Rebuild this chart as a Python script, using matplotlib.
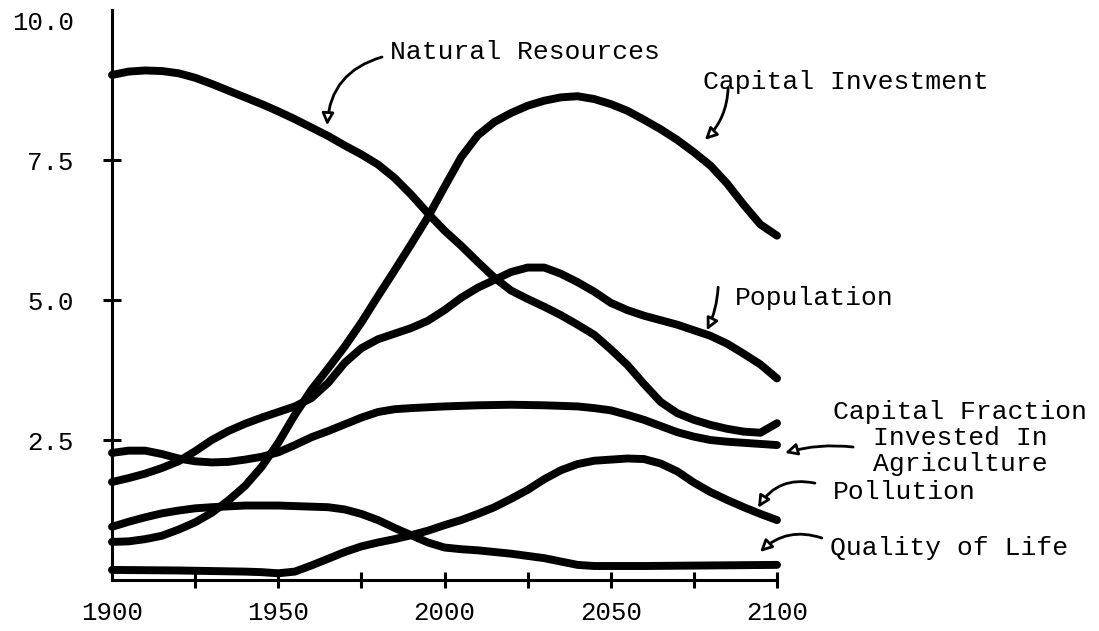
import numpy as np
import matplotlib
matplotlib.use("Agg")
import matplotlib.pyplot as plt

plt.rcParams['font.family'] = ['Liberation Mono', 'DejaVu Sans Mono']

# values, roughly every 5 years
nr_years = list(range(1900, 2101, 5))
nr_vals = [9.02, 9.08, 9.10, 9.09, 9.05, 8.97, 8.86, 8.74, 8.62, 8.50,
           8.37, 8.23, 8.08, 7.93, 7.76, 7.60, 7.42, 7.18, 6.88, 6.55,
           6.24, 5.97, 5.68, 5.40, 5.17, 5.02, 4.88, 4.73, 4.56, 4.38,
           4.12, 3.84, 3.50, 3.18, 2.98, 2.86, 2.77, 2.70, 2.65, 2.63, 2.80]

ci_years = list(range(1900, 2101, 5))
ci_vals = [0.68, 0.69, 0.73, 0.79, 0.90, 1.03, 1.20, 1.42, 1.68, 2.02,
           2.45, 2.95, 3.40, 3.78, 4.17, 4.60, 5.07, 5.53, 6.00, 6.48,
           7.02, 7.55, 7.94, 8.18, 8.34, 8.47, 8.56, 8.62, 8.64, 8.59,
           8.50, 8.38, 8.22, 8.05, 7.86, 7.64, 7.40, 7.08, 6.70, 6.35, 6.15]

pop_years = list(range(1900, 2101, 5))
pop_vals = [1.75, 1.82, 1.90, 2.00, 2.12, 2.30, 2.50, 2.66, 2.79, 2.90,
            3.00, 3.10, 3.25, 3.52, 3.88, 4.14, 4.30, 4.40, 4.50, 4.63,
            4.82, 5.04, 5.22, 5.36, 5.50, 5.58, 5.58, 5.47, 5.32, 5.15,
            4.95, 4.82, 4.72, 4.64, 4.56, 4.46, 4.36, 4.22, 4.04, 3.85, 3.60]

cf_years = [1900, 1905, 1910, 1915, 1920, 1925, 1930, 1935, 1940, 1945,
            1950, 1955, 1960, 1965, 1970, 1975, 1980, 1985, 1990, 2000,
            2010, 2020, 2030, 2040, 2045, 2050, 2055, 2060, 2065, 2070,
            2075, 2080, 2085, 2090, 2095, 2100]
cf_vals = [2.27, 2.31, 2.31, 2.25, 2.17, 2.12, 2.10, 2.11, 2.15, 2.20,
           2.28, 2.41, 2.55, 2.66, 2.78, 2.90, 3.00, 3.05, 3.07, 3.10,
           3.12, 3.13, 3.12, 3.10, 3.07, 3.03, 2.95, 2.86, 2.75, 2.64,
           2.56, 2.50, 2.47, 2.45, 2.43, 2.41]

pol_years = [1900, 1920, 1940, 1945, 1950, 1955, 1960, 1965, 1970, 1975,
             1980, 1985, 1990, 1995, 2000, 2005, 2010, 2015, 2020, 2025,
             2030, 2035, 2040, 2045, 2050, 2055, 2060, 2065, 2070, 2075,
             2080, 2085, 2090, 2095, 2100]
pol_vals = [0.18, 0.17, 0.15, 0.14, 0.12, 0.15, 0.26, 0.38, 0.50, 0.60,
            0.67, 0.73, 0.80, 0.88, 0.98, 1.07, 1.18, 1.30, 1.45, 1.61,
            1.80, 1.96, 2.07, 2.13, 2.15, 2.17, 2.16, 2.08, 1.94, 1.74,
            1.57, 1.43, 1.30, 1.18, 1.07]

qol_years = [1900, 1905, 1910, 1915, 1920, 1925, 1930, 1940, 1950, 1960,
             1965, 1970, 1975, 1980, 1985, 1990, 1995, 2000, 2005, 2010,
             2015, 2020, 2025, 2030, 2035, 2040, 2045, 2060, 2080, 2100]
qol_vals = [0.95, 1.04, 1.12, 1.19, 1.24, 1.28, 1.30, 1.33, 1.33, 1.31,
            1.30, 1.26, 1.18, 1.07, 0.93, 0.80, 0.67, 0.58, 0.55, 0.53,
            0.50, 0.47, 0.43, 0.39, 0.33, 0.27, 0.25, 0.25, 0.26, 0.27]

series = [
    (nr_years, nr_vals),
    (ci_years, ci_vals),
    (pop_years, pop_vals),
    (cf_years, cf_vals),
    (pol_years, pol_vals),
    (qol_years, qol_vals),
]

fig = plt.figure(figsize=(10.99, 6.31), dpi=100)
ax = fig.add_axes([112 / 1099, 51 / 631, 665 / 1099, 570 / 631])

for yrs, vals in series:
    ax.plot(yrs, vals, color='black', lw=5.7, solid_capstyle='round',
            solid_joinstyle='round', clip_on=False)

ax.set_xlim(1900, 2100)
ax.set_ylim(0, 10.18)
for s in ['top', 'right']:
    ax.spines[s].set_visible(False)
for s in ['left', 'bottom']:
    ax.spines[s].set_linewidth(2.2)

ax.set_xticks([1900, 1950, 2000, 2050, 2100])
ax.set_xticks([1925, 1975, 2025, 2075], minor=True)
ax.set_yticks([2.5, 5.0, 7.5, 10.0])
ax.set_yticklabels(['2.5', '5.0', '7.5', '10.0'])
ax.tick_params(axis='x', which='both', direction='inout', length=12, width=2.2,
               pad=9, labelsize=18.5)
ax.tick_params(axis='y', direction='inout', length=13, width=2.2, pad=21,
               labelsize=18.5)
ax.yaxis.get_major_ticks()[-1].tick1line.set_visible(False)
ax.xaxis.get_major_ticks()[0].tick1line.set_visible(False)

txt = dict(fontsize=19, va='center', clip_on=False)
arr = dict(arrowstyle='-|>,head_length=0.7,head_width=0.35', color='black',
           fc='white', lw=2, shrinkA=0, shrinkB=0)

ax.text(1983.6, 9.43, 'Natural Resources', ha='left', **txt)
ax.annotate('', xy=(1964.7, 8.12), xytext=(1981.2, 9.34),
            arrowprops=dict(connectionstyle='arc3,rad=0.35', **arr),
            annotation_clip=False)

ax.text(2077.7, 8.89, 'Capital Investment', ha='left', **txt)
ax.annotate('', xy=(2078.3, 7.86), xytext=(2085.3, 8.79),
            arrowprops=dict(connectionstyle='arc3,rad=-0.2', **arr),
            annotation_clip=False)

ax.text(2087.4, 5.04, 'Population', ha='left', **txt)
ax.annotate('', xy=(2078.9, 4.46), xytext=(2082.3, 5.23),
            arrowprops=dict(connectionstyle='arc3,rad=-0.1', **arr),
            annotation_clip=False)

ax.text(2155, 2.54, 'Capital Fraction\nInvested In\nAgriculture', ha='center',
        multialignment='center', linespacing=1.1, **txt)
ax.annotate('', xy=(2102.4, 2.27), xytext=(2122.9, 2.375),
            arrowprops=dict(connectionstyle='arc3,rad=0.1', **arr),
            annotation_clip=False)

ax.text(2116.8, 1.57, 'Pollution', ha='left', **txt)
ax.annotate('', xy=(2094.3, 1.29), xytext=(2111.4, 1.73),
            arrowprops=dict(connectionstyle='arc3,rad=0.35', **arr),
            annotation_clip=False)

ax.text(2115.9, 0.57, 'Quality of Life', ha='left', **txt)
ax.annotate('', xy=(2094.9, 0.50), xytext=(2113.5, 0.75),
            arrowprops=dict(connectionstyle='arc3,rad=0.3', **arr),
            annotation_clip=False)

fig.savefig('out.png', dpi=100)
